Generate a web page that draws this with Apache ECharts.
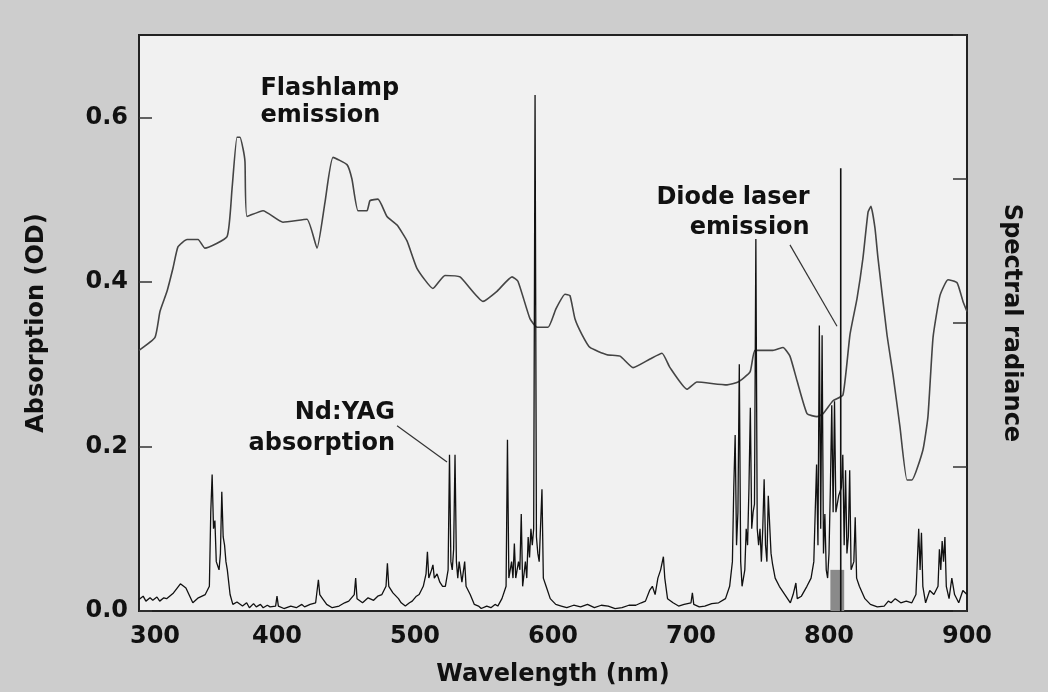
<!DOCTYPE html>
<html>
<head>
<meta charset="utf-8">
<script src="https://cdn.jsdelivr.net/npm/echarts@6/dist/echarts.min.js"></script>
<style>
html, body { margin: 0; padding: 0; background: #cdcdcd; }
#main { width: 1048px; height: 692px; }
</style>
</head>
<body>
<div id="main"></div>
<script>
// Nd:YAG absorption, [wavelength nm, OD]
var absorption = [
  [300, 0.014], [303, 0.018], [305, 0.012], [308, 0.016], [310, 0.013], [313, 0.017], [315, 0.012],
  [318, 0.016], [320, 0.015], [325, 0.022], [330, 0.033], [334, 0.028], [339, 0.01], [343, 0.016],
  [348, 0.02], [351, 0.03], [352, 0.12], [353, 0.166], [354, 0.1], [355, 0.11], [356, 0.06], [358, 0.05],
  [359, 0.07], [360, 0.145], [361, 0.09], [362, 0.08], [363, 0.06], [364, 0.05], [366, 0.02], [368, 0.008],
  [371, 0.011], [375, 0.006], [378, 0.01], [380, 0.004], [383, 0.009], [385, 0.005], [388, 0.008],
  [390, 0.004], [393, 0.007], [395, 0.005], [399, 0.006], [400, 0.018], [401, 0.006], [405, 0.003],
  [410, 0.006], [414, 0.004], [418, 0.008], [420, 0.005], [424, 0.008], [428, 0.01], [430, 0.038],
  [431, 0.02], [433, 0.015], [436, 0.008], [440, 0.004], [445, 0.006], [449, 0.01], [452, 0.012],
  [456, 0.02], [457, 0.04], [458, 0.015], [462, 0.01], [466, 0.016], [470, 0.013], [473, 0.018],
  [476, 0.02], [479, 0.03], [480, 0.058], [481, 0.03], [484, 0.022], [488, 0.015], [490, 0.01],
  [493, 0.006], [496, 0.01], [498, 0.012], [501, 0.018], [503, 0.02], [506, 0.03], [508, 0.045],
  [509, 0.072], [510, 0.04], [512, 0.05], [513, 0.056], [514, 0.04], [516, 0.045], [518, 0.035],
  [520, 0.03], [522, 0.03], [524, 0.05], [525, 0.19], [526, 0.06], [527, 0.05], [528, 0.075],
  [529, 0.19], [530, 0.06], [531, 0.04], [532, 0.06], [533, 0.062], [534, 0.035], [536, 0.06],
  [537, 0.03], [540, 0.02], [543, 0.008], [546, 0.006], [548, 0.003], [552, 0.006], [555, 0.004],
  [558, 0.008], [560, 0.006], [563, 0.015], [566, 0.03], [567, 0.208], [568, 0.04], [570, 0.06],
  [571, 0.04], [572, 0.082], [573, 0.04], [575, 0.06], [576, 0.05], [577, 0.118], [578, 0.03],
  [580, 0.06], [581, 0.04], [582, 0.09], [583, 0.065], [584, 0.1], [585, 0.08], [586, 0.1],
  [587, 0.627], [588, 0.09], [589, 0.07], [590, 0.06], [592, 0.148], [593, 0.04], [595, 0.03],
  [598, 0.015], [602, 0.008], [606, 0.006], [610, 0.004], [615, 0.007], [620, 0.005], [625, 0.008],
  [630, 0.004], [635, 0.007], [640, 0.006], [645, 0.003], [650, 0.004], [655, 0.007], [660, 0.007],
  [664, 0.01], [667, 0.012], [670, 0.025], [672, 0.03], [674, 0.02], [676, 0.04], [678, 0.05],
  [680, 0.066], [681, 0.04], [683, 0.015], [687, 0.01], [691, 0.006], [695, 0.008], [700, 0.01],
  [701, 0.022], [702, 0.008], [706, 0.005], [710, 0.006], [715, 0.009], [720, 0.01], [725, 0.015],
  [728, 0.03], [730, 0.06], [731, 0.15], [732, 0.214], [733, 0.08], [734, 0.12], [735, 0.30],
  [736, 0.06], [737, 0.03], [739, 0.05], [740, 0.1], [741, 0.08], [742, 0.15], [743, 0.247],
  [744, 0.1], [745, 0.12], [746, 0.13], [747, 0.452], [748, 0.1], [749, 0.08], [750, 0.1],
  [751, 0.06], [752, 0.1], [753, 0.16], [754, 0.08], [755, 0.06], [756, 0.14], [757, 0.142],
  [758, 0.07], [759, 0.058], [761, 0.04], [764, 0.03], [768, 0.02], [772, 0.01], [774, 0.02],
  [776, 0.034], [777, 0.015], [780, 0.018], [784, 0.03], [787, 0.04], [789, 0.06], [790, 0.12],
  [791, 0.178], [792, 0.08], [793, 0.347], [794, 0.1], [795, 0.335], [796, 0.07], [797, 0.118],
  [798, 0.05], [799, 0.04], [800, 0.07], [801, 0.15], [802, 0.25], [803, 0.12], [804, 0.255],
  [805, 0.12], [807, 0.14], [809, 0.15], [810, 0.19], [811, 0.08], [812, 0.171], [813, 0.07],
  [814, 0.09], [815, 0.171], [816, 0.05], [818, 0.06], [819, 0.114], [820, 0.04], [822, 0.03],
  [826, 0.015], [830, 0.008], [835, 0.005], [840, 0.006], [843, 0.012], [845, 0.01], [848, 0.015],
  [852, 0.01], [856, 0.012], [860, 0.01], [863, 0.02], [865, 0.1], [866, 0.05], [867, 0.095],
  [868, 0.03], [870, 0.01], [873, 0.025], [876, 0.02], [879, 0.03], [880, 0.075], [881, 0.05],
  [882, 0.085], [883, 0.06], [884, 0.09], [885, 0.03], [887, 0.015], [889, 0.04], [891, 0.02],
  [894, 0.01], [897, 0.025], [900, 0.02]
];

// flashlamp emission, [wavelength nm, spectral radiance (arb., right axis 0..4)]
var flashlamp = [
  [300, 1.81], [311.6, 1.9], [315.2, 2.08], [320.3, 2.22], [324.6, 2.38], [328.3, 2.53], [334.8, 2.58],
  [342.8, 2.58], [347.8, 2.52], [363.8, 2.6], [367.4, 2.93], [371, 3.29], [373.2, 3.29], [375.4, 3.21],
  [376.8, 3.12], [378.3, 2.74], [389.9, 2.78], [404.3, 2.7], [421.7, 2.72], [429, 2.52], [434.8, 2.84],
  [440.6, 3.15], [450.7, 3.1], [454.3, 3.0], [458.7, 2.78], [465.2, 2.78], [467.4, 2.85], [473.2, 2.86],
  [479.7, 2.74], [487, 2.68], [494.2, 2.57], [501.4, 2.38], [513, 2.24], [521.7, 2.33], [532.6, 2.32],
  [549.3, 2.15], [559.4, 2.22], [570.3, 2.32], [574.6, 2.29], [583.3, 2.03], [588.4, 1.97], [596.4, 1.97],
  [602.2, 2.1], [608.7, 2.2], [612.3, 2.19], [615.9, 2.03], [621, 1.92], [626.8, 1.83], [639.1, 1.78],
  [648.6, 1.77], [658, 1.69], [670.3, 1.75], [679, 1.79], [684.8, 1.69], [697.1, 1.54], [704.3, 1.59],
  [726.1, 1.57], [734.1, 1.59], [742.8, 1.66], [746.4, 1.81], [759.4, 1.81], [766.7, 1.83], [771.7, 1.77],
  [776.8, 1.6], [784.1, 1.37], [791.3, 1.35], [795.7, 1.37], [802.9, 1.46], [810.1, 1.5], [815.2, 1.92],
  [820.3, 2.17], [824.6, 2.45], [828.3, 2.77], [830.4, 2.81], [833.3, 2.66], [835.5, 2.45], [842, 1.92],
  [846.4, 1.64], [851.4, 1.28], [856.5, 0.91], [860.1, 0.91], [868.1, 1.12], [871.7, 1.35], [875.4, 1.9],
  [880.4, 2.19], [886.2, 2.3], [892.8, 2.28], [897.1, 2.15], [900, 2.08]
];

// diode laser emission line and the gray band under it
var diodeLine = [[808.5, 0], [808.5, 0.538]];
var diodeBand = [[801, 0], [801, 0.05], [811, 0.05], [811, 0]];

// annotation texts, anchored in data units
var notes = [
  { text: 'Flashlamp\nemission', at: [388, 0.618], align: 'left', lh: 27 },
  { text: 'Diode laser\nemission', at: [786, 0.484], align: 'right', lh: 30 },
  { text: 'Nd:YAG\nabsorption', at: [485.5, 0.222], align: 'right', lh: 31 }
];
var leaders = [
  [[771.7, 0.445], [805.8, 0.346]],
  [[487, 0.225], [523.2, 0.181]]
];

var FONT = 'DejaVu Sans';
var chartDom = document.getElementById('main');
var myChart = echarts.init(chartDom);
var option;

var leaderSeries = leaders.map(function (pts) {
  return {
    type: 'line',
    data: pts,
    showSymbol: false,
    silent: true,
    lineStyle: { color: '#333', width: 1.2 },
    z: 4
  };
});

option = {
  animation: false,
  backgroundColor: '#cdcdcd',
  grid: {
    show: true,
    left: 139,
    right: 81,
    top: 35,
    bottom: 77,
    backgroundColor: '#f1f1f1',
    borderColor: '#222',
    borderWidth: 2
  },
  xAxis: {
    type: 'value',
    min: 300,
    max: 900,
    interval: 100,
    name: 'Wavelength (nm)',
    nameLocation: 'middle',
    nameGap: 52,
    nameTextStyle: { fontFamily: FONT, fontWeight: 'bold', fontSize: 24, color: '#111' },
    axisLine: { show: true, lineStyle: { color: '#222', width: 2 } },
    axisTick: { show: false },
    splitLine: { show: false },
    axisLabel: {
      margin: 14,
      fontFamily: FONT,
      fontWeight: 'bold',
      fontSize: 24,
      color: '#111',
      formatter: function (v) {
        return v === 300 ? '{a|300}' : String(v);
      },
      rich: {
        a: { fontFamily: FONT, fontWeight: 'bold', fontSize: 24, color: '#111', padding: [0, 0, 0, 32] }
      }
    }
  },
  yAxis: [{
    type: 'value',
    min: 0,
    max: 0.7,
    interval: 0.2,
    name: 'Absorption (OD)',
    nameLocation: 'middle',
    nameGap: 90,
    nameTextStyle: { fontFamily: FONT, fontWeight: 'bold', fontSize: 24, color: '#111' },
    axisLine: { show: true, lineStyle: { color: '#222', width: 2 } },
    axisTick: { show: true, inside: true, length: 13, lineStyle: { color: '#333', width: 1.5 } },
    splitLine: { show: false },
    axisLabel: {
      showMaxLabel: false,
      margin: 11,
      fontFamily: FONT,
      fontWeight: 'bold',
      fontSize: 24,
      color: '#111',
      formatter: function (v) { return v.toFixed(1); }
    }
  }, {
    type: 'value',
    position: 'right',
    min: 0,
    max: 4,
    interval: 1,
    name: 'Spectral radiance',
    nameLocation: 'middle',
    nameGap: 32,
    nameRotate: -90,
    nameTextStyle: { fontFamily: FONT, fontWeight: 'bold', fontSize: 24, color: '#111' },
    axisLine: { show: true, lineStyle: { color: '#222', width: 2 } },
    axisTick: { show: true, inside: true, length: 14, lineStyle: { color: '#333', width: 1.5 } },
    axisLabel: { show: false },
    splitLine: { show: false }
  }],
  series: [{
    name: 'Diode band',
    type: 'line',
    data: diodeBand,
    showSymbol: false,
    lineStyle: { width: 0 },
    areaStyle: { color: '#8a8a8a', opacity: 1 },
    z: 1
  }, {
    name: 'Flashlamp emission',
    type: 'line',
    yAxisIndex: 1,
    data: flashlamp,
    showSymbol: false,
    smooth: 0.15,
    lineStyle: { color: '#444', width: 1.6 },
    z: 2
  }, {
    name: 'Nd:YAG absorption',
    type: 'line',
    data: absorption,
    showSymbol: false,
    lineStyle: { color: '#111', width: 1.3 },
    z: 3
  }, {
    name: 'Diode laser emission',
    type: 'line',
    data: diodeLine,
    showSymbol: false,
    lineStyle: { color: '#111', width: 1.6 },
    z: 3
  }].concat(leaderSeries)
};

option && myChart.setOption(option);

// annotation labels placed through the axes
var graphics = notes.map(function (n) {
  var p = myChart.convertToPixel({ xAxisIndex: 0, yAxisIndex: 0 }, n.at);
  return {
    type: 'text',
    x: p[0],
    y: p[1],
    z: 10,
    style: {
      text: n.text,
      fill: '#111',
      fontFamily: FONT,
      fontWeight: 'bold',
      fontSize: 24,
      lineHeight: n.lh,
      align: n.align,
      verticalAlign: 'middle'
    }
  };
});
myChart.setOption({ graphic: graphics });
</script>
</body>
</html>
